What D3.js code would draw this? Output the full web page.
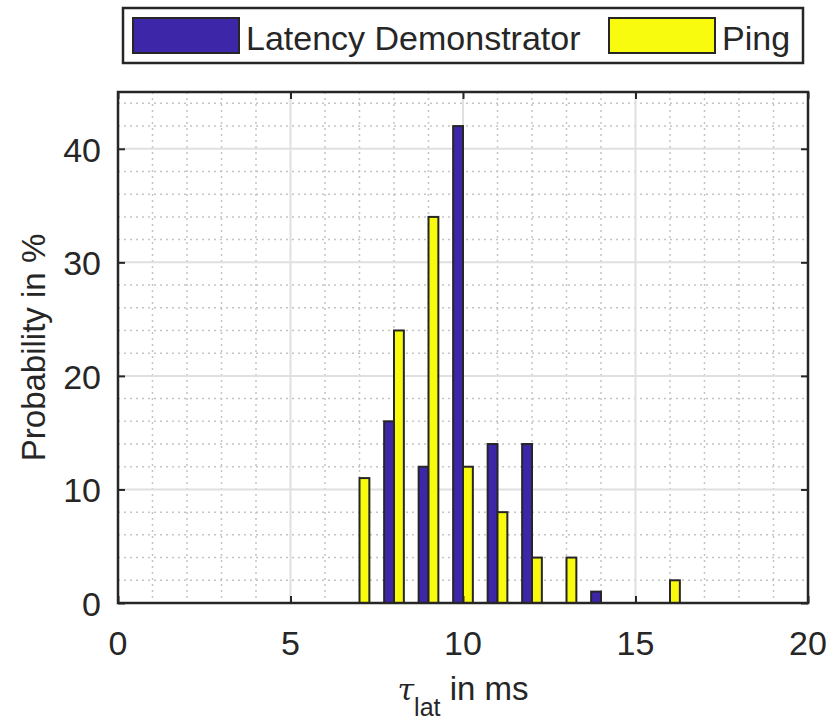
<!DOCTYPE html>
<html><head><meta charset="utf-8">
<script src="https://d3js.org/d3.v7.min.js"></script>
<style>body{margin:0;background:#fff}svg{display:block}text{font-family:"Liberation Sans",Arial,sans-serif;fill:#262626}</style>
</head><body><svg id="c" width="830" height="720"></svg>
<script>
const categories = [7, 8, 9, 10, 11, 12, 13, 14, 15, 16];
const latency = [0, 16, 12, 42, 14, 14, 0, 1, 0, 0];
const ping = [11, 24, 34, 12, 8, 4, 4, 0, 0, 2];
const seriesNames = ["Latency Demonstrator", "Ping"];
const seriesColors = ["#3E26A8", "#F9FB0F"];
const xTicks = [0, 5, 10, 15, 20];
const yTicks = [0, 10, 20, 30, 40];

const svg = d3.select("#c");
const L = 118, R = 808, T = 92, B = 603;
const x = d3.scaleLinear().domain([0, 20]).range([L, R]);
const y = d3.scaleLinear().domain([0, 45]).range([B, T]);

// minor grid
const g = svg.append("g");
g.selectAll(".mx").data(d3.range(1, 20).filter(v => v % 5)).join("line")
  .attr("x1", d => x(d)).attr("x2", d => x(d)).attr("y1", T).attr("y2", B)
  .attr("stroke", "#c4c4c4").attr("stroke-width", 1.5).attr("stroke-dasharray", "2,4");
g.selectAll(".my").data(d3.range(2, 45, 2).filter(v => v % 10)).join("line")
  .attr("y1", d => y(d)).attr("y2", d => y(d)).attr("x1", L).attr("x2", R)
  .attr("stroke", "#c4c4c4").attr("stroke-width", 1.5).attr("stroke-dasharray", "2,4");
// major grid
g.selectAll(".Mx").data(xTicks.slice(1, -1)).join("line")
  .attr("x1", d => x(d)).attr("x2", d => x(d)).attr("y1", T).attr("y2", B)
  .attr("stroke", "#e0e0e0").attr("stroke-width", 2);
g.selectAll(".My").data(yTicks.slice(1)).join("line")
  .attr("y1", d => y(d)).attr("y2", d => y(d)).attr("x1", L).attr("x2", R)
  .attr("stroke", "#e0e0e0").attr("stroke-width", 2);

// bars
const bw = 2 / 7;
const series = [latency, ping];
series.forEach((vals, si) => {
  const off = si === 0 ? -bw : 0;
  svg.append("g").selectAll("rect").data(categories.map((c, i) => ({c, v: vals[i]})).filter(d => d.v > 0))
    .join("rect")
    .attr("x", d => x(d.c + off)).attr("width", x(bw) - x(0))
    .attr("y", d => y(d.v)).attr("height", d => y(0) - y(d.v))
    .attr("fill", seriesColors[si]).attr("stroke", "#262626").attr("stroke-width", 2);
});

// axes box & ticks
const ax = svg.append("g");
const xb = d3.axisBottom(x).tickValues(xTicks).tickSize(-7).tickPadding(0).tickFormat(() => "");
const xt = d3.axisTop(x).tickValues(xTicks).tickSize(-7).tickFormat(() => "");
const yl = d3.axisLeft(y).tickValues(yTicks).tickSize(-7).tickFormat(() => "");
const yr = d3.axisRight(y).tickValues(yTicks).tickSize(-7).tickFormat(() => "");
[[xb, `translate(0,${B})`], [xt, `translate(0,${T})`], [yl, `translate(${L},0)`], [yr, `translate(${R},0)`]].forEach(([a, t]) => {
  const gg = ax.append("g").attr("transform", t).call(a);
  gg.select(".domain").remove();
  gg.selectAll("line").attr("stroke", "#262626").attr("stroke-width", 2);
});
ax.append("rect").attr("x", L).attr("y", T).attr("width", R - L).attr("height", B - T)
  .attr("fill", "none").attr("stroke", "#262626").attr("stroke-width", 2.5);

// tick labels
svg.append("g").selectAll("text").data(xTicks).join("text")
  .attr("x", d => x(d)).attr("y", 655).attr("text-anchor", "middle")
  .attr("font-size", 34).text(d => d);
svg.append("g").selectAll("text").data(yTicks).join("text")
  .attr("x", 101).attr("y", d => y(d) + 13).attr("text-anchor", "end")
  .attr("font-size", 34).text(d => d);

// axis labels
svg.append("text").attr("transform", `translate(45,${(T + B) / 2}) rotate(-90)`)
  .attr("text-anchor", "middle").attr("font-size", 33).text("Probability in %");
const xl = svg.append("text").attr("x", 463).attr("y", 700).attr("text-anchor", "middle").attr("font-size", 33);
xl.append("tspan").attr("font-style", "italic").attr("font-family", "DejaVu Serif").attr("font-size", 30).text("τ");
xl.append("tspan").attr("dy", 16).attr("font-size", 25).text("lat");
xl.append("tspan").attr("dy", -16).text(" in ms");

// legend
const lg = svg.append("g");
lg.append("rect").attr("x", 123).attr("y", 8).attr("width", 680).attr("height", 55)
  .attr("fill", "#fff").attr("stroke", "#262626").attr("stroke-width", 2.5);
const lx = [[133, 246], [609, 722]];
seriesNames.forEach((n, i) => {
  lg.append("rect").attr("x", lx[i][0]).attr("y", 18).attr("width", 106).attr("height", 35)
    .attr("fill", seriesColors[i]).attr("stroke", "#262626").attr("stroke-width", 2);
  lg.append("text").attr("x", lx[i][1]).attr("y", 50).attr("font-size", 34).attr("fill", "#000").text(n);
});
</script></body></html>
